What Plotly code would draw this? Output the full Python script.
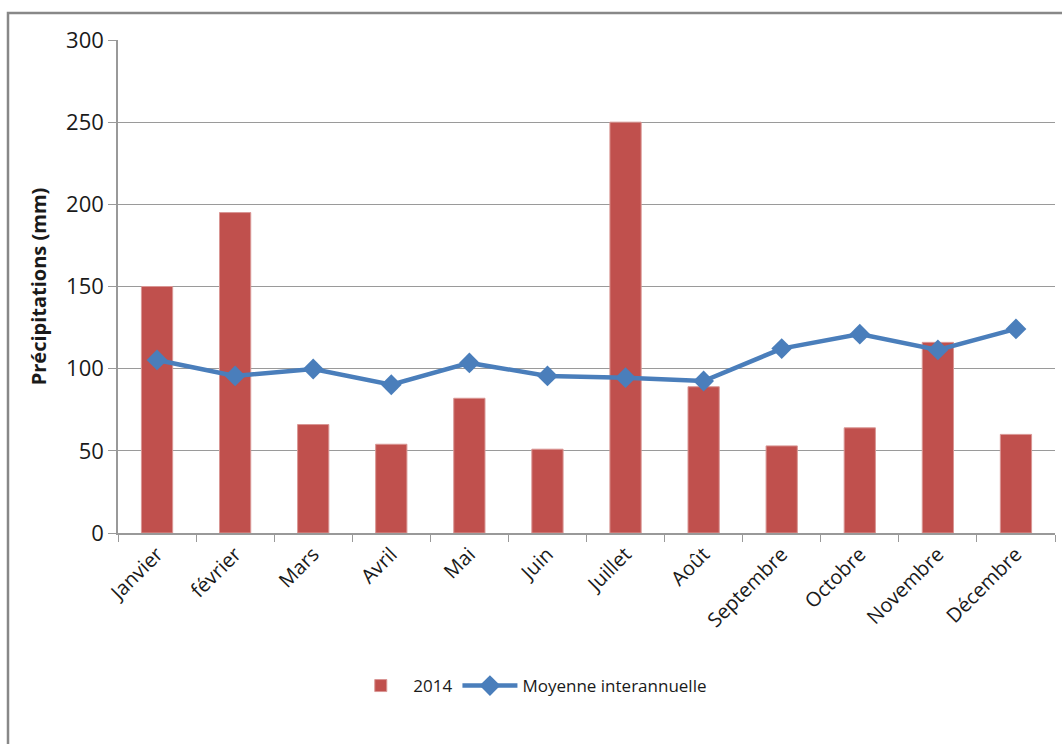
import plotly.graph_objects as go

mois = ["Janvier", "février", "Mars", "Avril", "Mai", "Juin", "Juillet", "Août",
        "Septembre", "Octobre", "Novembre", "Décembre"]
precip_2014 = [150, 195, 66, 54, 82, 51, 250, 89, 53, 64, 116, 60]
moyenne = [105.3, 95.6, 99.8, 90.2, 103.5, 95.6, 94.5, 92.5, 112.2, 121.0, 111.4, 124.2]

L, R, T, B = 118, 7, 40, 211
W, H = 1062, 744
pw, ph = W - L - R, H - T - B

fig = go.Figure()
fig.add_trace(go.Bar(
    x=mois, y=precip_2014, name="2014",
    marker=dict(color="#C0504D", line=dict(color="#D99694", width=1)),
))
fig.add_trace(go.Scatter(
    x=mois, y=moyenne, name="Moyenne interannuelle", mode="lines+markers",
    line=dict(color="#4A7EBB", width=4.5),
    marker=dict(symbol="diamond", size=16, color="#4A7EBB"),
))

font_family = "Open Sans, Liberation Sans, sans-serif"

fig.update_layout(
    width=W, height=H,
    margin=dict(l=L, r=R, t=T, b=B, autoexpand=False),
    paper_bgcolor="white", plot_bgcolor="white",
    bargap=0.6,
    font=dict(family=font_family, size=16, color="#1a1a1a"),
    showlegend=True,
    legend=dict(orientation="h", x=0.44, xanchor="center", y=(533 - 686) / ph,
                yanchor="middle", font=dict(size=17), itemwidth=55,
                traceorder="normal"),
    xaxis=dict(
        type="category", range=[-0.5, 11.5], autorange=False,
        showgrid=False, showline=True, linecolor="#999999",
        linewidth=1.5, ticks="outside", tickson="boundaries", ticklen=7,
        tickcolor="#999999", tickangle=-45, tickfont=dict(size=20),
    ),
    yaxis=dict(
        range=[0, 300], dtick=50, showgrid=True, gridcolor="#9a9a9a",
        gridwidth=1.2, showline=True, linecolor="#999999", linewidth=1.5,
        ticks="outside", ticklen=8, tickcolor="#999999", zeroline=False,
        tickfont=dict(size=22),
        title=dict(text="<b>Précipitations (mm)</b>", font=dict(size=20), standoff=14),
    ),
)

fig.add_shape(
    type="rect", xref="paper", yref="paper",
    x0=(8 - L) / pw, x1=(1075 - L) / pw,
    y0=(533 - 770) / ph, y1=1 + (T - 13) / ph,
    line=dict(color="#888888", width=2.5), fillcolor="rgba(0,0,0,0)", layer="below",
)

fig.write_html("out.html")
